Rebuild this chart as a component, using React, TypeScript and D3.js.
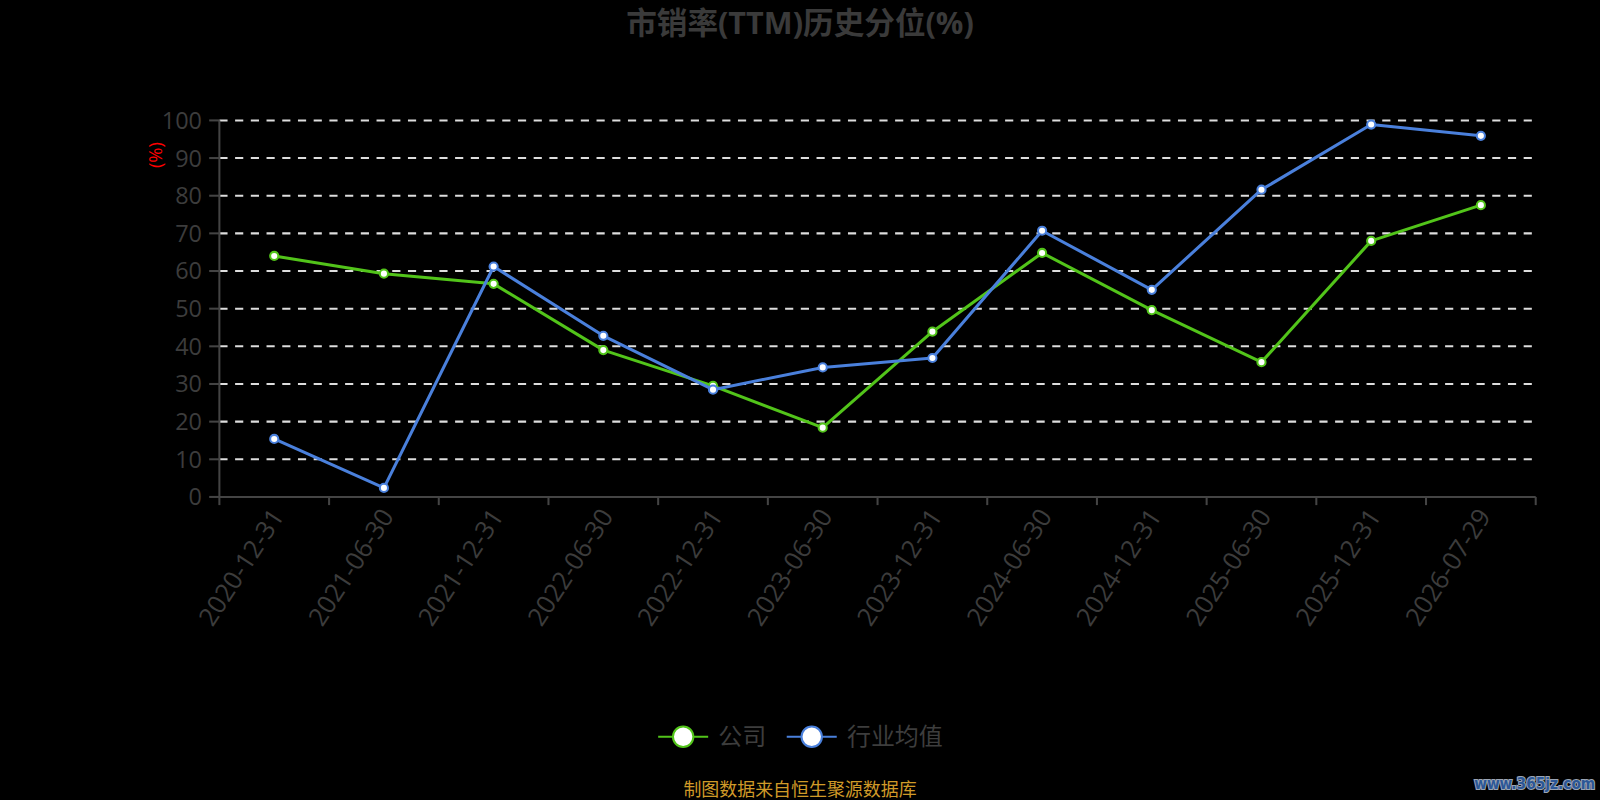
import React from "react";
import * as d3 from "d3";

const categories = [
  "2020-12-31", "2021-06-30", "2021-12-31", "2022-06-30", "2022-12-31", "2023-06-30",
  "2023-12-31", "2024-06-30", "2024-12-31", "2025-06-30", "2025-12-31", "2026-07-29",
];
const companyValues = [64.0, 59.3, 56.6, 39.0, 29.5, 18.4, 43.9, 64.8, 49.6, 35.8, 68.0, 77.5];
const industryValues = [15.4, 2.4, 61.2, 42.8, 28.5, 34.4, 36.9, 70.7, 55.0, 81.6, 98.9, 95.9];
const yTicks = [0, 10, 20, 30, 40, 50, 60, 70, 80, 90, 100];
const seriesNames = ["公司", "行业均值"];
const titleText = "市销率(TTM)历史分位(%)";
const sourceText = "制图数据来自恒生聚源数据库";
const watermark = "www.365jz.com";

// layout in a 1568x784 design space, scaled to 1600x800
const VW = 1568;
const VH = 784;
const left = 215;
const right = 1505;
const top = 118;
const bottom = 487;
const GREEN = "#52c41a";
const BLUE = "#4a80dc";
const FONT = "'Open Sans', 'Noto Sans CJK SC', sans-serif";

export default function App() {
  const x = d3.scaleBand<string>().domain(categories).range([left, right]);
  const y = d3.scaleLinear().domain([0, 100]).range([bottom, top]);
  const cx = (c: string) => (x(c) as number) + x.bandwidth() / 2;
  const line = d3
    .line<number>()
    .x((_, i) => cx(categories[i]))
    .y((v) => y(v));
  const series = [
    { name: seriesNames[0], values: companyValues, color: GREEN, lx: 645 },
    { name: seriesNames[1], values: industryValues, color: BLUE, lx: 771 },
  ];
  const boundaries = categories.map((c) => x(c) as number).concat([right]);

  return (
    <svg
      width={1600}
      height={800}
      viewBox={`0 0 ${VW} ${VH}`}
      style={{ display: "block", position: "absolute", left: 0, top: 0, background: "#000" }}
    >
      <rect x={0} y={0} width={VW} height={VH} fill="#000" />
      <text x={784} y={33} textAnchor="middle" fontFamily={FONT} fontSize={30} fontWeight="bold" fill="#3a3a3a">
        {titleText}
      </text>
      {/* grid */}
      {yTicks.filter((t) => t > 0).map((t) => (
        <line key={t} x1={left} x2={right} y1={y(t)} y2={y(t)} stroke="#dddddd" strokeWidth={2} strokeDasharray="8,7.4" />
      ))}
      {/* y axis */}
      <line x1={left} x2={left} y1={top} y2={bottom} stroke="#444" strokeWidth={2} />
      {yTicks.map((t) => (
        <g key={t}>
          <line x1={left - 10} x2={left} y1={y(t)} y2={y(t)} stroke="#444" strokeWidth={2} />
          <text x={198} y={y(t)} dy="0.36em" textAnchor="end" fontFamily={FONT} fontSize={23} fill="#3c3c3c">
            {t}
          </text>
        </g>
      ))}
      <text
        transform={`translate(159,${152}) rotate(-90)`}
        textAnchor="middle"
        fontFamily={FONT}
        fontSize={18}
        fill="#ff0000"
      >
        (%)
      </text>
      {/* x axis */}
      <line x1={left} x2={right} y1={bottom} y2={bottom} stroke="#444" strokeWidth={2} />
      {boundaries.map((b, i) => (
        <line key={i} x1={b} x2={b} y1={bottom} y2={bottom + 8} stroke="#444" strokeWidth={2} />
      ))}
      {categories.map((c) => (
        <text
          key={c}
          transform={`translate(${cx(c) + 3},${bottom + 14}) rotate(-57)`}
          textAnchor="end"
          dy="0.36em"
          fontFamily={FONT}
          fontSize={25}
          fill="#3c3c3c"
        >
          {c}
        </text>
      ))}
      {/* series */}
      {series.map((s) => (
        <g key={s.name}>
          <path d={line(s.values) || ""} fill="none" stroke={s.color} strokeWidth={3} strokeLinejoin="round" />
          {s.values.map((v, i) => (
            <circle key={i} cx={cx(categories[i])} cy={y(v)} r={4} fill="#fff" stroke={s.color} strokeWidth={2} />
          ))}
        </g>
      ))}
      {/* legend */}
      {series.map((s) => (
        <g key={s.name}>
          <line x1={s.lx} x2={s.lx + 49} y1={722} y2={722} stroke={s.color} strokeWidth={2} />
          <circle cx={s.lx + 24.5} cy={722} r={10} fill="#fff" stroke={s.color} strokeWidth={2} />
          <text x={s.lx + 59} y={722} dy="0.36em" fontFamily={FONT} fontSize={23.5} fill="#3d3d3d">
            {s.name}
          </text>
        </g>
      ))}
      <text x={784} y={774} dy="0.36em" textAnchor="middle" fontFamily={FONT} fontSize={17.6} fill="#d09a28">
        {sourceText}
      </text>
      <text
        x={1504}
        y={768}
        dy="0.36em"
        textAnchor="middle"
        fontFamily="'DejaVu Sans Condensed', 'DejaVu Sans', sans-serif"
        fontSize={15}
        fontWeight="bold"
        fill="#2b5797"
        stroke="#9aa4b4"
        strokeWidth={2}
        paintOrder="stroke"
      >
        {watermark}
      </text>
    </svg>
  );
}
